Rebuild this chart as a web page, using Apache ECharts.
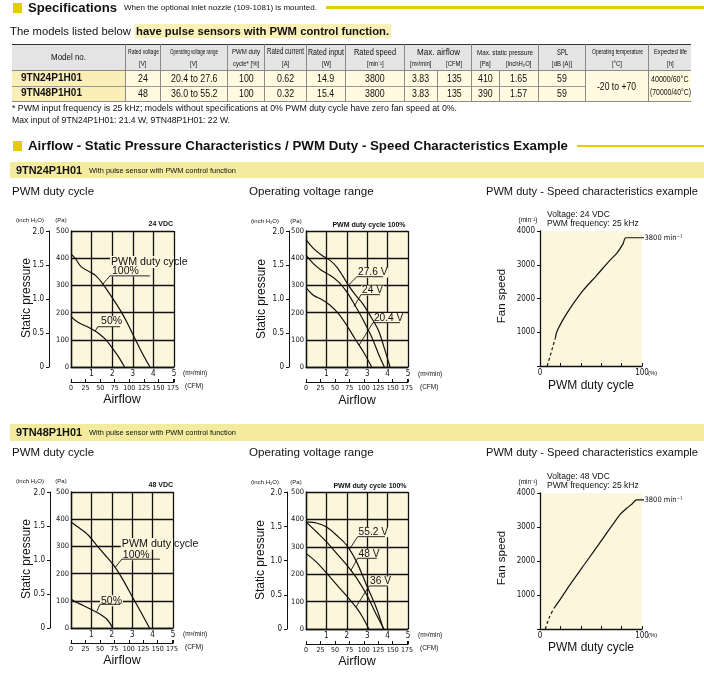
<!DOCTYPE html>
<html><head><meta charset="utf-8">
<script src="https://cdn.jsdelivr.net/npm/echarts@6.0.0/dist/echarts.min.js"></script>
<style>
html,body{margin:0;padding:0;background:#fff;}
#page{position:relative;width:704px;height:673px;overflow:hidden;font-family:'Liberation Sans',Arial,sans-serif;color:#111;}
#chart{position:absolute;left:0;top:0;width:704px;height:673px;z-index:2;}
</style></head><body><div id="page"><div id="chart"></div></div>
<script>
// ---------------- DATA ----------------
const models = ['9TN24P1H01','9TN48P1H01'];
const headLabels = ['Rated voltage','Operating voltage range','PWM duty','Rated current','Rated input','Rated speed','Max. airflow','Max. static pressure','SPL','Operating temperature','Expected life'];
const headUnits = ['[V]','[V]','cycle* [%]','[A]','[W]','[min⁻¹]','[m³/min]','[CFM]','[Pa]','[inchH₂O]','[dB (A)]','[°C]','[h]'];
const ratedVoltage = ['24','48'];
const opVoltageRange = ['20.4 to 27.6','36.0 to 55.2'];
const pwmDutyCycle = ['100','100'];
const ratedCurrent = ['0.62','0.32'];
const ratedInput = ['14.9','15.4'];
const ratedSpeed = ['3800','3800'];
const maxAirflowM3 = ['3.83','3.83'];
const maxAirflowCFM = ['135','135'];
const maxStaticPa = ['410','390'];
const maxStaticInch = ['1.65','1.57'];
const splDb = ['59','59'];
const opTemperature = '-20 to +70';
const expectedLife = ['40000/60°C','(70000/40°C)'];

// airflow [m3/min], static pressure [Pa]
const pwm24Duty100 = [[0,416],[0.2,400],[0.5,368],[0.9,350],[1.2,336],[1.55,305],[2.0,255],[2.46,200],[2.8,152],[3.1,105],[3.5,45],[3.83,0]];
const pwm24Duty50  = [[0,186],[0.2,172],[0.45,160],[0.8,148],[1.17,132],[1.45,117],[1.7,100],[2.0,70],[2.3,38],[2.6,0]];
const volt24V276 = [[0,468],[0.36,436],[0.77,411],[1.18,392],[1.5,368],[1.8,335],[2.1,298],[2.45,262],[2.75,236],[3.14,190],[3.55,135],[3.82,74],[4.12,0]];
const volt24V240 = [[0,411],[0.36,380],[0.77,355],[1.18,337],[1.59,313],[2.0,276],[2.4,227],[2.81,172],[3.22,110],[3.55,49],[3.84,0]];
const volt24V204 = [[0,292],[0.36,264],[0.77,248],[1.18,227],[1.59,196],[2.0,153],[2.4,104],[2.81,56],[3.22,0]];
const pwm48Duty100 = [[0,390],[0.44,366],[0.85,341],[1.25,305],[1.74,262],[2.15,225],[2.55,177],[3.04,110],[3.45,55],[3.85,0]];
const pwm48Duty50  = [[0,107],[0.25,95],[0.6,83],[1.0,68],[1.4,52],[1.75,33],[2.05,0]];
const volt48V552 = [[0,391],[0.52,387],[1.01,372],[1.5,342],[1.99,306],[2.48,245],[2.97,160],[3.46,75],[3.79,0]];
const volt48V480 = [[0,391],[0.52,354],[1.01,318],[1.5,276],[2.0,233],[2.49,185],[2.98,124],[3.46,51],[3.82,0]];
const volt48V360 = [[0,276],[0.5,245],[1.0,205],[1.5,162],[2.0,120],[2.5,75],[2.8,40],[3.08,0]];
// PWM duty [%], fan speed [min-1]
const speed24Dashed = [[7,0],[15,820]];
const speed24Solid  = [[15,820],[16.3,1000],[21.2,1300],[29.3,1700],[42.3,2240],[55.4,2680],[68.4,3130],[75,3330],[81.4,3620],[84,3800],[100,3800]];
const speed48Dashed = [[5.2,0],[9,330],[13.7,610]];
const speed48Solid  = [[13.7,610],[20,880],[29.3,1300],[45.6,1985],[61.9,2670],[78.2,3360],[85,3550],[91,3700],[94.5,3800],[100,3800]];

const CFM_PER_M3 = 35.3147;
const PA_PER_INCH = 249.089;

// ---------------- HTML PART ----------------
const page = document.getElementById('page');
const YEL = '#e3cd00', BAND = '#f3eb9d';
const FN = "'Liberation Sans Narrow','DejaVu Sans Condensed',sans-serif";
const FR = "'Liberation Sans',Arial,sans-serif";
function rect(x,y,w,h,c){const d=document.createElement('div');d.style.cssText=`position:absolute;left:${x}px;top:${y}px;width:${w}px;height:${h}px;background:${c};`;page.appendChild(d);return d;}
function txt(text,o){
  const d=document.createElement('div');
  d.style.cssText=`position:absolute;white-space:nowrap;line-height:1.15;font-size:${o.size}px;font-family:${o.family||FR};font-weight:${o.weight||'normal'};color:${o.color||'#111'};transform-origin:0 50%;z-index:3;`;
  if(o.html) d.innerHTML=text; else d.textContent=text;
  page.appendChild(d);
  const r=d.getBoundingClientRect();
  let s=o.scale||1;
  if(o.w) s=o.w/r.width;
  if(o.maxw && r.width*s>o.maxw) s=o.maxw/r.width;
  const fw=r.width*s;
  let left=o.x; if(o.align==='center') left=o.x-fw/2; else if(o.align==='right') left=o.x-fw;
  d.style.left=left+'px'; d.style.top=(o.y-r.height/2)+'px';
  if(s!==1) d.style.transform=`scaleX(${s})`;
  return d;
}
// heading 1
rect(12.7,2.7,9,10,YEL);
txt('Specifications',{x:28,y:7.6,size:13.5,weight:'bold',w:89});
txt('When the optional inlet nozzle (109-1081) is mounted.',{x:123.6,y:8,size:7.5,w:193});
rect(326,6,378,2.7,YEL);
txt('The models listed below <span style="font-weight:bold;background:#fbf0b6;padding:1px 2px 1px 2px;">have pulse sensors with PWM control function.</span>',{x:10,y:32,size:11.5,w:381,html:true});
// table
const colX=[12,125,160,227,264,306,345,404,437,471,499,538,585,648,691];
const T0=44,TH=70,TR=85.5,TB=101;
rect(12,T0,679,TH-T0,'#e4e4e4');
rect(12,TH,113,TB-TH,'#fbefb8');
rect(125,TH,566,TB-TH,'#fffae0');
rect(12,T0-0.5,679,1.6,'#333');
rect(12,TH,679,1,'#8a8a8a');
rect(12,TR,573,1,'#9a9a9a');
rect(12,TB,679,1,'#8a8a8a');
for(let i=1;i<colX.length-1;i++){
  const x=colX[i];
  if(x===437||x===499) rect(x,TH,1,TB-TH,'#8a8a8a');
  else rect(x,T0,1,TB-T0,'#8a8a8a');
}
txt('Model no.',{x:68.5,y:56.7,size:9,align:'center',w:35});
const labelSpans=[[1,2],[2,3],[3,4],[4,5],[5,6],[6,7],[7,9],[9,11],[11,12],[12,13],[13,14]];
const labelW=[31,48,28,37,36,42,43,56,11,51,33];
const labelSize=[7.5,7.5,7.5,8.5,9,9.5,9.5,8,9,7,7.5];
labelSpans.forEach((sp,i)=>{
  const cx=(colX[sp[0]]+colX[sp[1]])/2+0.5;
  txt(headLabels[i],{x:cx,y:52.3,size:labelSize[i],align:'center',w:labelW[i],family:FR});
});
headUnits.forEach((u,i)=>{
  const cx=(colX[i+1]+colX[i+2])/2+0.5;
  txt(u,{x:cx,y:64.3,size:7,align:'center',scale:0.85});
});
const rowY=[77.9,93.2];
const valueCols=[ratedVoltage,opVoltageRange,pwmDutyCycle,ratedCurrent,ratedInput,ratedSpeed,maxAirflowM3,maxAirflowCFM,maxStaticPa,maxStaticInch,splDb];
models.forEach((m,r)=>{
  txt(m,{x:20.7,y:rowY[r],size:10.3,weight:'bold',w:61});
  valueCols.forEach((col,i)=>{
    const cx=(colX[i+1]+colX[i+2])/2+0.5;
    txt(col[r],{x:cx,y:rowY[r],size:11,align:'center',scale:0.8});
  });
});
txt(opTemperature,{x:616.5,y:86,size:11,align:'center',w:39});
txt(expectedLife[0],{x:670,y:79,size:9,align:'center',w:37.5});
txt(expectedLife[1],{x:670,y:92,size:9,align:'center',w:41});
txt('* PWM input frequency is 25 kHz; models without specifications at 0% PWM duty cycle have zero fan speed at 0%.',{x:12,y:108.5,size:9,w:445});
txt('Max input of 9TN24P1H01: 21.4 W, 9TN48P1H01: 22 W.',{x:12,y:120.3,size:9,w:218});
// heading 2
rect(12.7,141,9,9.5,YEL);
txt('Airflow - Static Pressure Characteristics / PWM Duty - Speed Characteristics Example',{x:28.2,y:145.8,size:12.5,weight:'bold',w:540});
rect(577,144.9,127,2.4,YEL);
function band(y0,y1,model){
  rect(10,y0,694,y1-y0,BAND);
  const cy=(y0+y1)/2;
  txt(model,{x:16,y:cy+0.2,size:11,weight:'bold',w:66});
  txt('With pulse sensor with PWM control function',{x:88.6,y:cy+0.6,size:6.5,w:147});
}
function titles(y){
  txt('PWM duty cycle',{x:12.3,y:y,size:11.5,w:82});
  txt('Operating voltage range',{x:249,y:y,size:11.5,w:124.6});
  txt('PWM duty - Speed characteristics example',{x:486,y:y,size:11.5,w:212});
}
band(161.7,177.7,models[0]); titles(191.7);
band(424,440.7,models[1]); titles(452.3);

// ---------------- ECHARTS PART ----------------
const PLOT_BG='#fcf6dc', INK='#111';
const grids=[
  {left:71,top:231,width:103,height:136},
  {left:306,top:231,width:102,height:136},
  {left:540,top:231,width:102,height:135},
  {left:71,top:492,width:102,height:136},
  {left:306,top:492,width:102,height:137},
  {left:540,top:493,width:102,height:136}
];
const xAxes=[], yAxes=[], series=[];
const lab={fontSize:7.5,fontFamily:FN,color:INK};
function addStatic(gi,inchOffset){
  const xi=xAxes.length, yi=yAxes.length;
  xAxes.push({gridIndex:gi,type:'value',min:0,max:5,interval:1,position:'bottom',
    axisLine:{show:true,onZero:false,lineStyle:{color:INK,width:1.3}},axisTick:{show:false},
    splitLine:{show:true,lineStyle:{color:INK,width:1.3}},
    axisLabel:{...lab,fontSize:8,margin:3,formatter:v=>v===0?'':String(v)}});
  xAxes.push({gridIndex:gi,type:'value',min:0,max:5*CFM_PER_M3,interval:25,position:'bottom',offset:15,
    axisLine:{show:true,onZero:false,lineStyle:{color:INK,width:1}},
    axisTick:{show:true,inside:true,length:3,lineStyle:{color:INK,width:1}},
    splitLine:{show:false},
    axisLabel:{...lab,fontSize:7,margin:3,formatter:v=>Math.abs(v%25)<1e-6?String(v):''}});
  yAxes.push({gridIndex:gi,type:'value',min:0,max:500,interval:100,position:'left',
    axisLine:{show:true,onZero:false,lineStyle:{color:INK,width:1.3}},axisTick:{show:false},
    splitLine:{show:true,lineStyle:{color:INK,width:1.3}},
    axisLabel:{...lab,margin:2}});
  yAxes.push({gridIndex:gi,type:'value',min:0,max:500/PA_PER_INCH,interval:0.5,position:'left',offset:inchOffset,
    axisLine:{show:true,onZero:false,lineStyle:{color:INK,width:1}},
    axisTick:{show:true,inside:false,length:3,lineStyle:{color:INK,width:1}},
    splitLine:{show:false},
    axisLabel:{...lab,fontSize:8,margin:5,formatter:v=>{const k=v/0.5;return Math.abs(k-Math.round(k))<1e-6?(v===0?'0':v.toFixed(1)):'';}}});
  return {x:xi,y:yi};
}
function addSpeed(gi){
  const xi=xAxes.length, yi=yAxes.length;
  xAxes.push({gridIndex:gi,type:'value',min:0,max:100,interval:20,position:'bottom',
    axisLine:{show:true,onZero:false,lineStyle:{color:INK,width:1.3}},
    axisTick:{show:true,inside:true,length:3,lineStyle:{color:INK,width:1}},
    splitLine:{show:false},
    axisLabel:{...lab,fontSize:8,margin:3,formatter:v=>(v===0||v===100)?String(v):''}});
  yAxes.push({gridIndex:gi,type:'value',min:0,max:4000,interval:1000,position:'left',
    axisLine:{show:true,onZero:false,lineStyle:{color:INK,width:1.3}},
    axisTick:{show:true,inside:false,length:3,lineStyle:{color:INK,width:1}},
    splitLine:{show:false},
    axisLabel:{...lab,fontSize:8,margin:5,formatter:v=>v===0?'':String(v)}});
  return {x:xi,y:yi};
}
function curve(ax,data,extra){
  series.push(Object.assign({type:'line',xAxisIndex:ax.x,yAxisIndex:ax.y,data,smooth:0.3,symbol:'none',silent:true,z:5,
    lineStyle:{color:INK,width:1.2}},extra||{}));
}
function leader(ax,pts){
  series.push({type:'line',xAxisIndex:ax.x,yAxisIndex:ax.y,data:pts,smooth:false,symbol:'none',silent:true,z:6,
    lineStyle:{color:INK,width:0.9}});
}
const a1=addStatic(0,22), a2=addStatic(1,17), a3=addSpeed(2), a4=addStatic(3,21), a5=addStatic(4,19), a6=addSpeed(5);
curve(a1,pwm24Duty100); curve(a1,pwm24Duty50);
curve(a2,volt24V276); curve(a2,volt24V240); curve(a2,volt24V204);
curve(a4,pwm48Duty100); curve(a4,pwm48Duty50);
curve(a5,volt48V552); curve(a5,volt48V480); curve(a5,volt48V360);
curve(a3,speed24Dashed,{smooth:false,lineStyle:{color:INK,width:1.2,type:[3,2.5]}});
curve(a3,speed24Solid,{smooth:0.25});
curve(a6,speed48Dashed,{smooth:0.3,lineStyle:{color:INK,width:1.2,type:[3,2.5]}});
curve(a6,speed48Solid,{smooth:0.25});

// annotations: leader [tip, underline start, underline end] + label text
const annotations=[
  {ax:a1,pts:[[1.55,305],[1.89,335],[3.83,335]],labels:[['PWM duty cycle',[1.94,386],10.7,true],['100%',[1.94,353],10.5]]},
  {ax:a1,pts:[[1.17,131],[1.3,148],[2.38,148]],labels:[['50%',[1.41,167],10.5]]},
  {ax:a2,pts:[[2.07,300],[2.49,332],[3.77,332]],labels:[['27.6 V',[2.5,347],10.2]]},
  {ax:a2,pts:[[2.35,222],[2.7,266],[3.63,266]],labels:[['24 V',[2.7,281],10.2]]},
  {ax:a2,pts:[[2.6,80],[3.28,163],[4.61,163]],labels:[['20.4 V',[3.28,180],10.2]]},
  {ax:a4,pts:[[2.16,222],[2.49,253],[4.36,253]],labels:[['PWM duty cycle',[2.49,309],10.7,true],['100%',[2.49,269],10.5]]},
  {ax:a4,pts:[[1.26,60],[1.42,87],[2.4,87]],labels:[['50%',[1.42,100],10.5]]},
  {ax:a5,pts:[[2.12,290],[2.53,337],[3.87,337]],labels:[['55.2 V',[2.53,353],10.2]]},
  {ax:a5,pts:[[2.19,212],[2.53,258],[3.47,258]],labels:[['48 V',[2.53,274],10.2]]},
  {ax:a5,pts:[[2.45,80],[3.09,157],[4.02,157]],labels:[['36 V',[3.09,173],10.2]]}
];
annotations.forEach(a=>leader(a.ax,a.pts));

const chart=echarts.init(document.getElementById('chart'),null,{renderer:'canvas',width:704,height:673});
chart.setOption({
  animation:false,
  grid:grids.map(g=>Object.assign({},g,{show:true,backgroundColor:PLOT_BG,borderWidth:0,containLabel:false,outerBoundsMode:'none'})),
  xAxis:xAxes, yAxis:yAxes, series
});

// graphic texts
const gr=[];
function gt(text,x,y,size,opt){
  opt=opt||{};
  gr.push({type:'text',x,y,z:opt.z||20,rotation:opt.rot?Math.PI/2:0,silent:true,
    style:{text,fill:INK,fontSize:size,fontFamily:opt.family||FR,fontWeight:opt.weight||'normal',
      align:opt.align||'left',verticalAlign:'middle',backgroundColor:opt.bg,padding:opt.bg?[0,1]:0}});
}
const ctx=document.createElement('canvas').getContext('2d');
annotations.forEach(a=>{
  a.labels.forEach(l=>{
    const p=chart.convertToPixel({xAxisIndex:a.ax.x,yAxisIndex:a.ax.y},l[1]);
    if(l[3]){
      ctx.font=l[2]+'px '+FR;
      const gridRight=chart.convertToPixel({xAxisIndex:a.ax.x,yAxisIndex:a.ax.y},[5,0])[0];
      const w=Math.min(ctx.measureText(l[0]).width+2,gridRight-p[0]+1);
      gr.push({type:'rect',z:4,silent:true,shape:{x:p[0]-1,y:p[1]-l[2]*0.55,width:w,height:l[2]*1.1},style:{fill:PLOT_BG}});
      gt(l[0],p[0],p[1],l[2],{z:7});
    } else {
      gt(l[0],p[0],p[1],l[2],{z:4,bg:PLOT_BG});
    }
  });
});
// end labels of speed curves
[[a3,speed24Solid],[a6,speed48Solid]].forEach(([ax,d])=>{
  const last=d[d.length-1];
  const p=chart.convertToPixel({xAxisIndex:ax.x,yAxisIndex:ax.y},last);
  gr.push({type:'line',z:6,silent:true,shape:{x1:p[0],y1:p[1],x2:p[0]+2,y2:p[1]},style:{stroke:INK,lineWidth:1.2}});
  gt(String(last[1])+' min⁻¹',p[0]+2.5,p[1],7.5,{family:FN});
});
// static chart captions
function staticTexts(ox,oy,cap,capX,spX){
  gt('(inch H₂O)',ox+44,oy+220,6,{align:'right'});
  gt('(Pa)',ox+61,oy+220,6,{align:'center'});
  gt(cap,capX,oy+224.5,7,{align:capX>300?'center':'right',weight:'bold'});
  gt('Static pressure',spX,oy+298,12,{align:'center',rot:true});
  gt('Airflow',ox+122,oy+399.5,12.5,{align:'center'});
  gt('(m³/min)',ox+183,oy+373,6.5);
  gt('(CFM)',ox+185,oy+386.5,6.5);
}
staticTexts(0,0,'24 VDC',173,26.5);
staticTexts(235,1,'PWM duty cycle 100%',369,262);
staticTexts(0,261,'48 VDC',173,27);
staticTexts(235,262,'PWM duty cycle 100%',370,261);
function speedTexts(oy,volt){
  gt('(min⁻¹)',528,oy+220,6.5,{align:'center'});
  gt('Voltage: '+volt,547,oy+214.5,8.5);
  gt('PWM frequency: 25 kHz',547,oy+223.5,8.5);
  gt('Fan speed',502,oy+296,11.5,{align:'center',rot:true});
  gt('PWM duty cycle',591,oy+386,12,{align:'center'});
  gt('(%)',648,oy+373.5,6);
}
speedTexts(0,'24 VDC');
speedTexts(262,'48 VDC');
chart.setOption({graphic:gr});
</script></body></html>
